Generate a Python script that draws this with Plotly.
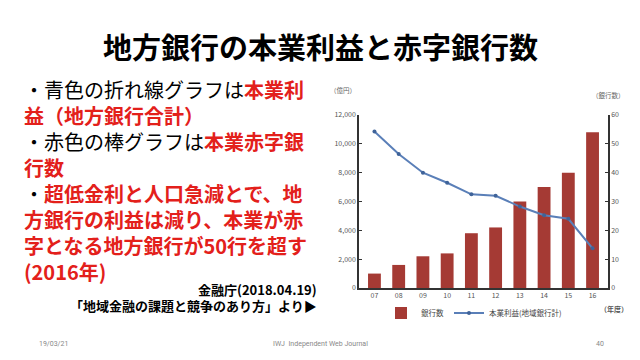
import plotly.graph_objects as go

# Data
years = ["07", "08", "09", "10", "11", "12", "13", "14", "15", "16"]
deficit_banks = [5, 8, 11, 12, 19, 21, 30, 35, 40, 54]          # 銀行数 (right axis)
core_profit = [10850, 9300, 8000, 7300, 6500, 6400, 5650, 5050, 4800, 2750]  # 本業利益 (億円, left axis)
left_ticks = [0, 2000, 4000, 6000, 8000, 10000, 12000]
right_ticks = [0, 10, 20, 30, 40, 50, 60]

W, H = 640, 360
def px(x): return x / W
def py(y): return 1 - y / H

JP = "Noto Sans CJK JP"
RED = "#E3201B"
BAR = "#A53A34"
LINE = "#5A7FB8"

fig = go.Figure()
fig.add_trace(go.Bar(
    x=years, y=deficit_banks, name="銀行数", marker=dict(color=BAR, line=dict(width=0)),
    yaxis="y", width=0.53,
))
fig.add_trace(go.Scatter(
    x=years, y=core_profit, name="本業利益(地域銀行計)", mode="lines+markers",
    line=dict(color=LINE, width=2), marker=dict(color="#3F6399", size=4),
    yaxis="y2",
))

axis_common = dict(showgrid=False, zeroline=False, linecolor="#333", linewidth=1.5,
                   automargin=False,
                   tickfont=dict(family=JP, size=7, color="#555"))

fig.update_layout(
    width=W, height=H, margin=dict(l=0, r=0, t=0, b=0, autoexpand=False),
    paper_bgcolor="white", plot_bgcolor="white",
    showlegend=True,
    legend=dict(orientation="h", x=px(474), xanchor="center", y=py(313), yanchor="middle",
                font=dict(family=JP, size=7.5, color="#444"), bgcolor="rgba(0,0,0,0)",
                itemwidth=30, tracegroupgap=0),
    xaxis=dict(domain=[px(359), px(608)], showline=True, linecolor="#333", linewidth=1.5,
               automargin=False, ticks="", showgrid=False,
               tickfont=dict(family=JP, size=7, color="#555")),
    yaxis=dict(side="right", range=[0, 60], tickvals=right_ticks, domain=[py(288), py(115)],
               showline=True, ticks="inside", ticklen=3, tickcolor="#333", anchor="x",
               **axis_common),
    yaxis2=dict(side="left", overlaying="y", range=[0, 12000], tickvals=left_ticks,
                tickformat=",d", showline=True, ticks="inside", ticklen=3, tickcolor="#333",
                anchor="x", **axis_common),
    bargap=0.47,
    font=dict(family=JP),
)

annotations = []
def ann(x, y, text, size, color="black", xanchor="left", yanchor="middle", family=JP, align="left"):
    annotations.append(dict(x=px(x), y=py(y), xref="paper", yref="paper", text=text,
                            showarrow=False, xanchor=xanchor, yanchor=yanchor, align=align,
                            font=dict(family=family, size=size, color=color)))

# Title
ann(320, 46, "<b>地方銀行の本業利益と赤字銀行数</b>", 29, xanchor="center")

def r(t): return f"<span style='color:{RED}'><b>{t}</b></span>"
lines = [
    "・青色の折れ線グラフは" + r("本業利"),
    r("益（地方銀行合計）"),
    "・赤色の棒グラフは" + r("本業赤字銀"),
    r("行数"),
    "・" + r("超低金利と人口急減とで、地"),
    r("方銀行の利益は減り、本業が赤"),
    r("字となる地方銀行が50行を超す"),
    r("(2016年)"),
]
# one multi-line block, first line centred at y≈88
ann(22, 73, "<br>".join(lines), 20, yanchor="top")

ann(319, 289, "<b>金融庁(2018.04.19)</b>", 13, xanchor="right")
ann(319, 305, "<b>「地域金融の課題と競争のあり方」より▶</b>", 13, xanchor="right")

# Axis unit labels
ann(343, 90, "（億円）", 6.5, color="#666", xanchor="center")
ann(608, 95, "（銀行数）", 6.5, color="#666", xanchor="center")
ann(614, 309, "<b>（年度）</b>", 7, color="#555", xanchor="center")

# Footer
ann(37, 344, "19/03/21", 7, color="#888", family="Roboto")
ann(320, 344, "IWJ  Independent Web Journal", 7, color="#888", xanchor="center", family="Roboto")
ann(606, 344, "40", 7, color="#888", xanchor="right", family="Roboto")

fig.update_layout(annotations=annotations)
fig.write_html("out.html", config={"displayModeBar": False},
               post_script="document.body.style.margin='0';document.body.style.overflow='hidden';")
